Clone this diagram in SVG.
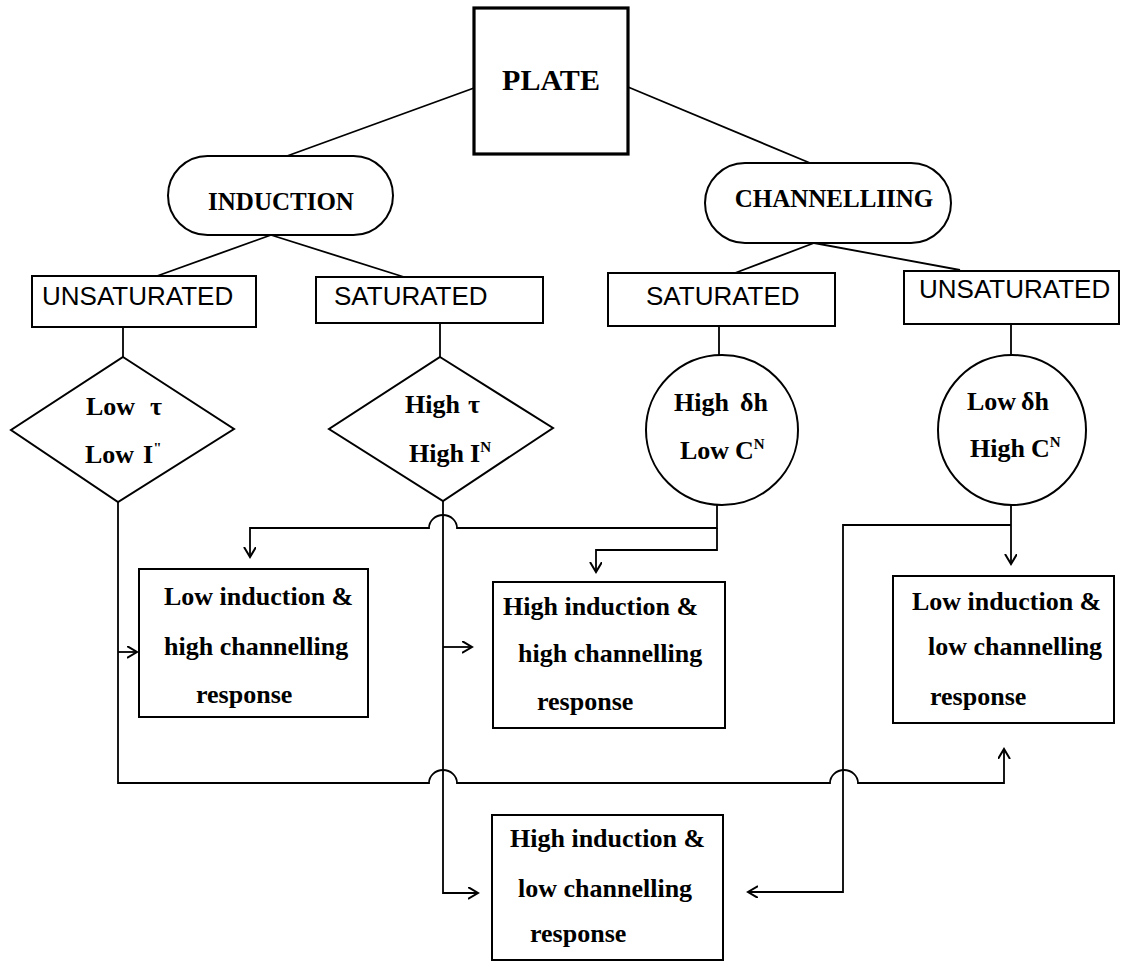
<svg xmlns="http://www.w3.org/2000/svg" width="1121" height="962" viewBox="0 0 1121 962">
<style>
.bg{fill:#fff}
.ln{stroke:#000;stroke-width:1.8;fill:none}
.box{fill:#fff;stroke:#000;stroke-width:2}
.thick{fill:#fff;stroke:#000;stroke-width:3.2}
.ser{font-family:"Liberation Serif","Times New Roman",serif;font-weight:bold;font-size:26px;fill:#000}
.head{font-family:"Liberation Serif","Times New Roman",serif;font-weight:bold;font-size:25px;fill:#000}
.sans{font-family:"Liberation Sans",Arial,sans-serif;font-size:26px;fill:#000}
.sup{font-size:15px}
</style>
<defs>
<marker id="arr" markerUnits="userSpaceOnUse" markerWidth="14" markerHeight="14" refX="10" refY="6" orient="auto">
<path d="M0,0 L10,6 L0,12" fill="none" stroke="#000" stroke-width="2"/>
</marker>
</defs>
<rect class="bg" x="0" y="0" width="1121" height="962"/>
<g id="connectors">
<line class="ln" x1="474" y1="88" x2="287" y2="156"/>
<line class="ln" x1="628" y1="87" x2="810" y2="163"/>
<line class="ln" x1="271" y1="235" x2="157" y2="276"/>
<line class="ln" x1="271" y1="235" x2="404" y2="277"/>
<line class="ln" x1="814" y1="243" x2="735" y2="273"/>
<line class="ln" x1="814" y1="243" x2="960" y2="270"/>
<line class="ln" x1="123" y1="327" x2="123" y2="357"/>
<line class="ln" x1="440" y1="323" x2="440" y2="357"/>
<line class="ln" x1="719" y1="326" x2="719" y2="355"/>
<line class="ln" x1="1011" y1="324" x2="1011" y2="355"/>
<path class="ln" d="M118,502 V783 H429 A14,13 0 0 1 457,783 H830 A14,13 0 0 1 858,783 H1004 V749" marker-end="url(#arr)"/>
<path class="ln" d="M118,652 H137" marker-end="url(#arr)"/>
<path class="ln" d="M443,501 V893 H478" marker-end="url(#arr)"/>
<path class="ln" d="M443,647 H472" marker-end="url(#arr)"/>
<path class="ln" d="M717,505 V528 H457 A14,13 0 0 0 429,528 H250 V557" marker-end="url(#arr)"/>
<path class="ln" d="M717,528 V550 H596 V572" marker-end="url(#arr)"/>
<path class="ln" d="M1011,505 V564" marker-end="url(#arr)"/>
<path class="ln" d="M1011,525 H843 V892 H748" marker-end="url(#arr)"/>
</g>
<g id="plate">
<rect class="thick" x="474" y="8" width="154" height="146"/>
<text class="ser" x="551" y="90" text-anchor="middle" style="font-size:30px">PLATE</text>
</g>
<g id="induction">
<rect class="box" x="168" y="156" width="225" height="79" rx="39.5" ry="39.5"/>
<text class="head" x="281" y="210" text-anchor="middle">INDUCTION</text>
</g>
<g id="channelling">
<rect class="box" x="705" y="163" width="246" height="80" rx="40" ry="40"/>
<text class="head" x="834" y="207" text-anchor="middle">CHANNELLIING</text>
</g>
<g id="unsat-left">
<rect class="box" x="32" y="276" width="224" height="51"/>
<text class="sans" x="42" y="305">UNSATURATED</text>
</g>
<g id="sat-left">
<rect class="box" x="316" y="277" width="227" height="46"/>
<text class="sans" x="334" y="305">SATURATED</text>
</g>
<g id="sat-right">
<rect class="box" x="608" y="273" width="227" height="53"/>
<text class="sans" x="646" y="305">SATURATED</text>
</g>
<g id="unsat-right">
<rect class="box" x="904" y="271" width="215" height="53"/>
<text class="sans" x="919" y="298">UNSATURATED</text>
</g>
<g id="diamond-left">
<polygon class="box" points="123,357 234,429 118,502 11,430"/>
<text class="ser" x="86" y="415">Low<tspan x="150">τ</tspan></text>
<text class="ser" x="85" y="463">Low<tspan x="143">I</tspan><tspan class="sup" dy="-10">"</tspan></text>
</g>
<g id="diamond-right">
<polygon class="box" points="440,357 553,428 443,501 329,429"/>
<text class="ser" x="405" y="413">High<tspan x="468">τ</tspan></text>
<text class="ser" x="409" y="462">High<tspan x="470">I</tspan><tspan class="sup" dy="-10">N</tspan></text>
</g>
<g id="circle-left">
<ellipse class="box" cx="722" cy="430" rx="76" ry="75"/>
<text class="ser" x="674" y="411">High<tspan x="740">δh</tspan></text>
<text class="ser" x="680" y="459">Low<tspan x="735">C</tspan><tspan class="sup" dy="-10">N</tspan></text>
</g>
<g id="circle-right">
<ellipse class="box" cx="1012" cy="430" rx="74" ry="75"/>
<text class="ser" x="967" y="410">Low<tspan x="1021">δh</tspan></text>
<text class="ser" x="970" y="457">High<tspan x="1031">C</tspan><tspan class="sup" dy="-10">N</tspan></text>
</g>
<g id="box-low-ind-high-ch">
<rect class="box" x="139" y="569" width="229" height="148"/>
<text class="ser" x="164" y="605">Low induction &amp;</text>
<text class="ser" x="164" y="655">high channelling</text>
<text class="ser" x="196" y="703">response</text>
</g>
<g id="box-high-ind-high-ch">
<rect class="box" x="493" y="582" width="232" height="146"/>
<text class="ser" x="503" y="615">High induction &amp;</text>
<text class="ser" x="518" y="662">high channelling</text>
<text class="ser" x="537" y="710">response</text>
</g>
<g id="box-low-ind-low-ch">
<rect class="box" x="893" y="576" width="221" height="147"/>
<text class="ser" x="912" y="610">Low induction &amp;</text>
<text class="ser" x="928" y="655">low channelling</text>
<text class="ser" x="930" y="705">response</text>
</g>
<g id="box-high-ind-low-ch">
<rect class="box" x="492" y="815" width="231" height="145"/>
<text class="ser" x="510" y="847">High induction &amp;</text>
<text class="ser" x="518" y="897">low channelling</text>
<text class="ser" x="530" y="942">response</text>
</g>
</svg>
